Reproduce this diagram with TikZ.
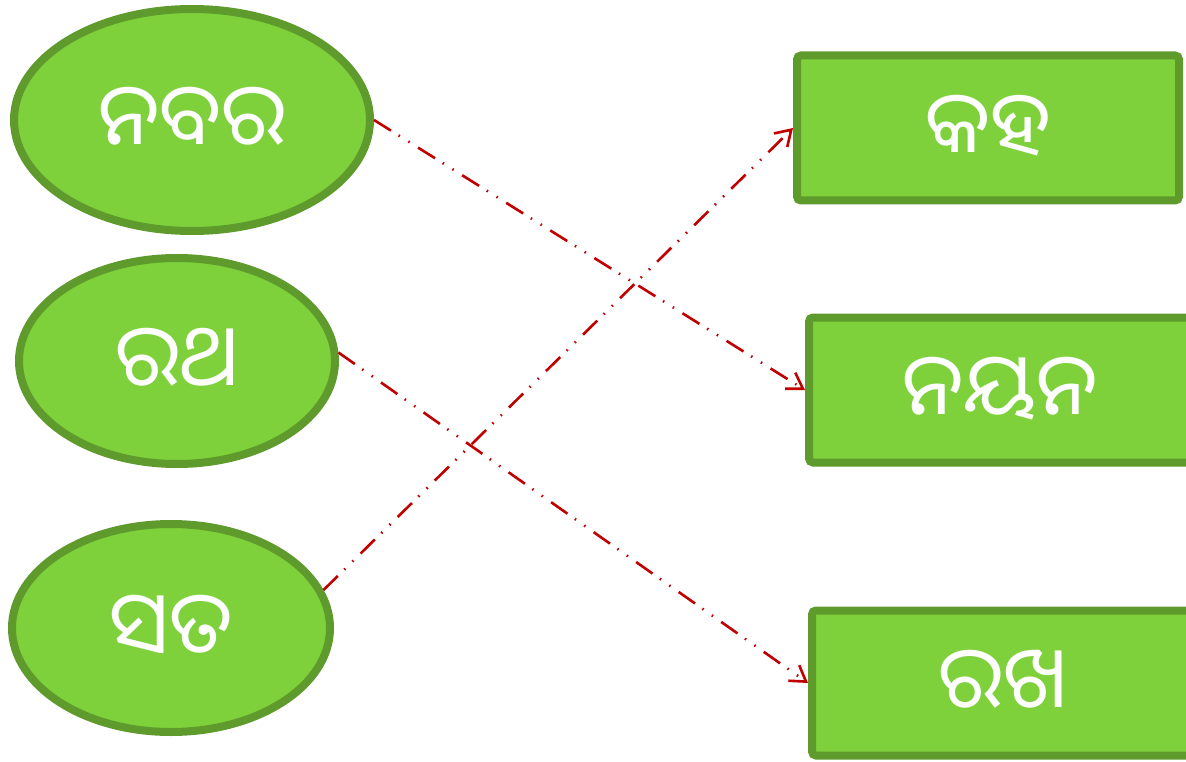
\documentclass[tikz,border=0pt]{standalone}
\usepackage{fontspec}
\newfontfamily\oriya[Script=Oriya]{Noto Sans Oriya UI}
\usetikzlibrary{shapes.geometric,arrows.meta}
\definecolor{gfill}{RGB}{126,209,59}
\definecolor{gline}{RGB}{94,154,44}
\definecolor{ared}{RGB}{192,0,0}
\tikzset{
 oval/.style={ellipse, draw=gline, fill=gfill, line width=8pt, inner sep=0pt, text=white, font=\oriya\fontsize{86}{90}\selectfont},
 wordbox/.style={rectangle, rounded corners=4pt, draw=gline, fill=gfill, line width=8pt, inner sep=0pt, text=white, font=\oriya\fontsize{86}{90}\selectfont, minimum width=382pt, minimum height=145pt},
 link/.style={draw=ared, line width=2.6pt, dash pattern=on 20pt off 9pt on 1.5pt off 10pt on 1.5pt off 10pt, -{Straight Barb[length=15pt,width=19pt]}}
}
\begin{document}
\begin{tikzpicture}[x=1pt,y=-1pt]
\useasboundingbox (0,0) rectangle (1186,762);
\clip (0,0) rectangle (1186,762);
\node[oval, minimum width=356pt, minimum height=222pt] (n1) at (192,120) {ନବର};
\node[oval, minimum width=316pt, minimum height=206pt] (n2) at (177,361) {ରଥ};
\node[oval, minimum width=318pt, minimum height=208pt] (n3) at (171,628) {ସତ};
\node[wordbox] (r1) at (988,128) {କହ};
\node[wordbox] (r2) at (1000,390) {ନୟନ};
\node[wordbox] (r3) at (1003,683) {ରଖ};
\draw[link] (n1.east) -- (r2.west);
\draw[link] (n2.3) -- (r3.west);
\draw[link] (n3.14) -- (r1.west);
\end{tikzpicture}
\end{document}
